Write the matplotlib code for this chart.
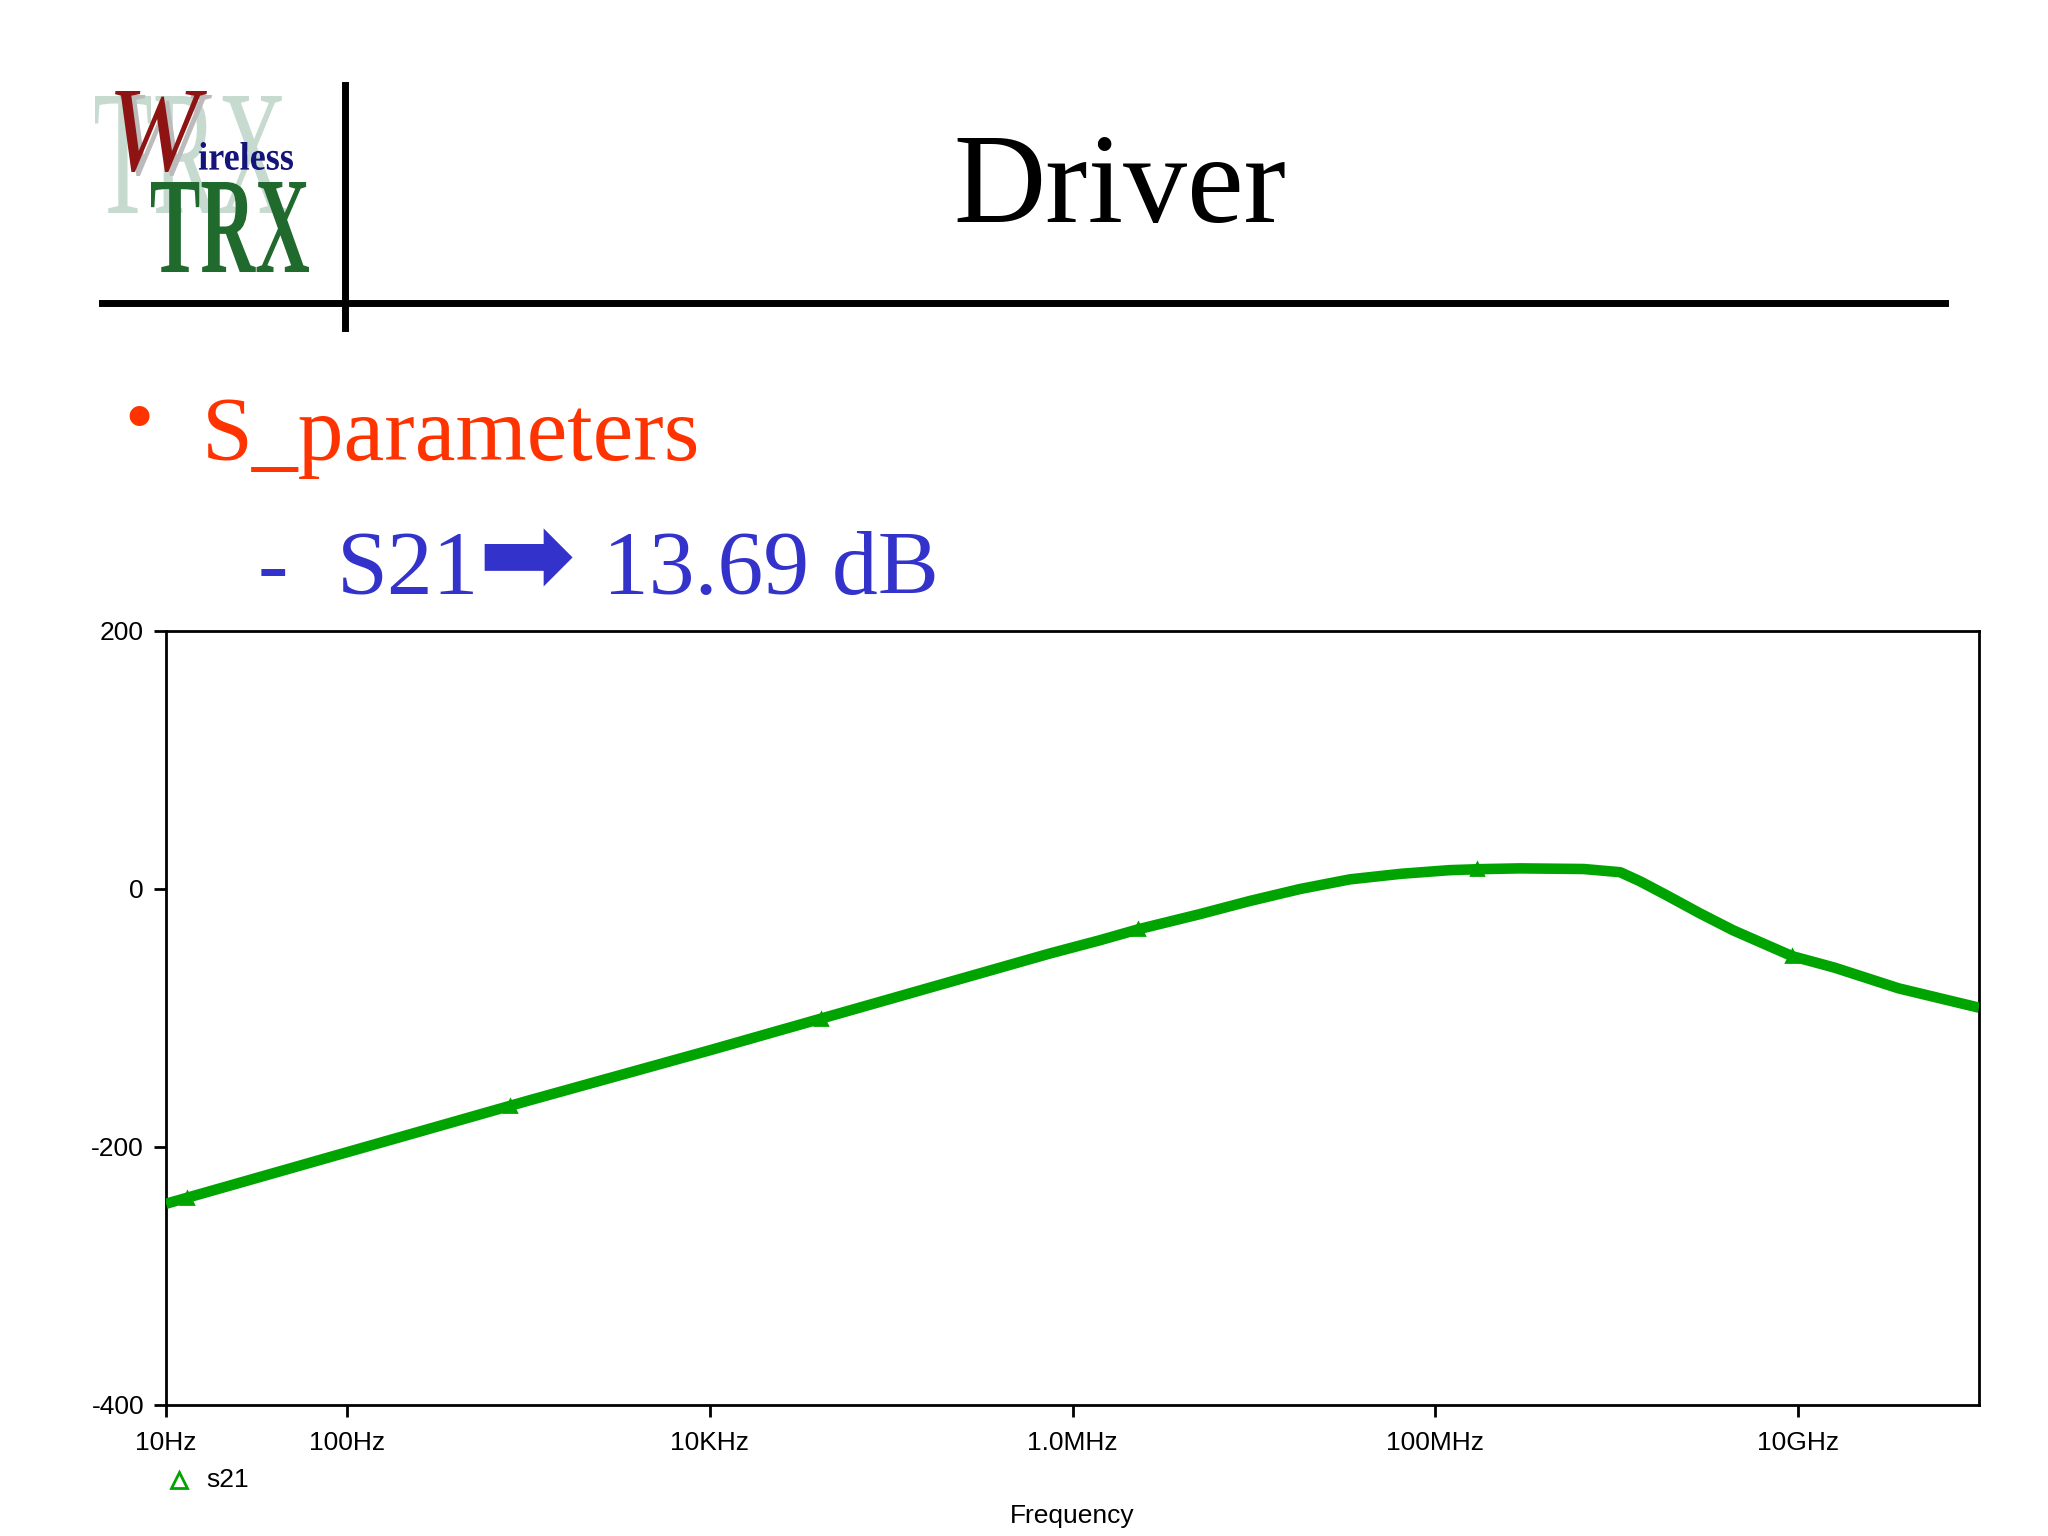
import numpy as np
import matplotlib
matplotlib.use("Agg")
import matplotlib.pyplot as plt
from matplotlib.textpath import TextPath
from matplotlib.patches import PathPatch
from matplotlib.font_manager import FontProperties
from matplotlib.transforms import Affine2D
from matplotlib.lines import Line2D

# ---------------- data ----------------
freq_hz = [10, 100, 1e3, 1e4, 1e5, 7.5e5, 1.41e6, 2.34e6, 5.0e6, 9.5e6,
           1.8e7, 3.4e7, 6.5e7, 1.2e8, 1.78e8, 2.95e8, 6.6e8, 1.05e9,
           1.35e9, 1.9e9, 2.9e9, 4.4e9, 9.3e9, 1.6e10, 3.6e10, 1e11]
s21_db = [-244, -204, -164, -125, -85, -50, -39.8, -31, -19.6, -9.3,
          0, 7.5, 11.8, 14.6, 15.4, 16, 15.5, 13,
          6, -5, -19, -32, -52, -61, -77, -92]
marker_freq = [13, 785, 4.1e4, 2.3e6, 1.7e8, 9.3e9]

xtick_vals = [10, 100, 1e4, 1e6, 1e8, 1e10]
xtick_labels = ["10Hz", "100Hz", "10KHz", "1.0MHz", "100MHz", "10GHz"]
ytick_vals = [-400, -200, 0, 200]
ytick_labels = ["-400", "-200", "0", "200"]

title_text = "Driver"
bullet_text = "S_parameters"
sub_dash = "-"
sub_label = "S21"
sub_arrow = "\u27A1"
sub_value = "13.69 dB"
legend_label = "s21"
xlabel_text = "Frequency"

# ---------------- figure ----------------
W, H = 2048, 1536
fig = plt.figure(figsize=(10.24, 7.68), dpi=200)
fig.patch.set_facecolor("white")

pix = Affine2D().scale(1 / W, 1 / H) + fig.transFigure


def fx(x):
    return x / W


def fy(y):
    return 1 - y / H


def fit_text(s, box, color, prop, z=2):
    tp = TextPath((0, 0), s, size=100, prop=prop)
    bb = tp.get_extents()
    x0, y0, x1, y1 = box
    sx = (x1 - x0) / bb.width
    sy = (y1 - y0) / bb.height
    tr = (Affine2D().translate(-bb.x0, -bb.y0).scale(sx, sy)
          .translate(x0, H - y1)) + pix
    p = PathPatch(tp, transform=tr, facecolor=color, edgecolor="none", zorder=z)
    fig.add_artist(p)


serif = FontProperties(family="Liberation Serif")
serif_b = FontProperties(family="Liberation Serif", weight="bold")
serif_i = FontProperties(family="Liberation Serif", style="italic")

# logo (a bitmap logo in the original)
fit_text("TRX", (95, 96, 286, 213), "#C6DAD0", serif, z=1)
fit_text("W", (120, 95, 212, 176), "#BBBBBB", serif_i, z=2)
fit_text("W", (115, 91, 207, 172), "#8E1414", serif_i, z=3)
fit_text("ireless", (199, 142, 293, 170), "#14147A", serif_b, z=3)
fit_text("TRX", (151, 182, 309, 272), "#1F6A2C", serif_b, z=3)

# header lines
fig.add_artist(Line2D([fx(102), fx(1945)], [fy(303), fy(303)], lw=2.5, color="black"))
fig.add_artist(Line2D([fx(345), fx(345)], [fy(85), fy(328)], lw=2.5, color="black"))

# title
fig.text(fx(1120), fy(222), title_text, family="Liberation Serif", fontsize=46,
         ha="center", va="baseline", color="black")

# bullet lines
red = "#FF3300"
blue = "#3333CC"
fig.text(fx(139), fy(424), "\u2022", family="Liberation Serif", fontsize=30,
         ha="center", va="center", color=red)
fig.text(fx(202), fy(460), bullet_text, family="Liberation Serif", fontsize=33,
         ha="left", va="baseline", color=red)
fig.text(fx(258), fy(594), sub_dash, family="Liberation Serif", fontsize=33,
         ha="left", va="baseline", color=blue)
fig.text(fx(337), fy(594), sub_label, family="Liberation Serif", fontsize=33,
         ha="left", va="baseline", color=blue)
fig.text(fx(526), fy(562), sub_arrow, family=["DejaVu Sans"], fontsize=42,
         ha="center", va="center", color=blue)
fig.text(fx(603), fy(594), sub_value, family="Liberation Serif", fontsize=33,
         ha="left", va="baseline", color=blue)

# ---------------- axes ----------------
ax = fig.add_axes([fx(166), fy(1405), fx(1979) - fx(166), fy(631) - fy(1405)])
ax.set_facecolor("white")
green = "#00A400"
ax.plot(freq_hz, s21_db, color=green, lw=3.8, solid_capstyle="butt",
        solid_joinstyle="round", zorder=3)
mk_y = np.interp(np.log10(marker_freq), np.log10(freq_hz), s21_db)
ax.plot(marker_freq, mk_y, ls="none", marker="^", ms=4.5, color=green, zorder=4)

ax.set_xscale("log")
ax.set_xlim(10, 1e11)
ax.set_ylim(-400, 200)
ax.set_xticks(xtick_vals)
ax.set_xticklabels(xtick_labels)
ax.xaxis.set_minor_locator(matplotlib.ticker.NullLocator())
ax.set_yticks(ytick_vals)
ax.set_yticklabels(ytick_labels)
for s in ax.spines.values():
    s.set_linewidth(1.0)
    s.set_color("black")
ax.tick_params(axis="both", direction="out", length=4.3, width=1.0,
               labelsize=9.5, colors="black")
ax.tick_params(axis="x", pad=5.0)
ax.tick_params(axis="y", pad=3.6)
for lab in ax.get_xticklabels() + ax.get_yticklabels():
    lab.set_family("Liberation Sans")

# legend and x label
fig.add_artist(Line2D([fx(179)], [fy(1480)], marker="^", ms=6, mfc="none",
                      mec=green, mew=1.0, ls="none"))
fig.text(fx(206), fy(1480), legend_label, family="Liberation Sans", fontsize=9.5,
         ha="left", va="center", color="black")
fig.text(fx(1072), fy(1516), xlabel_text, family="Liberation Sans", fontsize=9.5,
         ha="center", va="center", color="black")

fig.savefig("out.png", dpi=200, facecolor="white")
